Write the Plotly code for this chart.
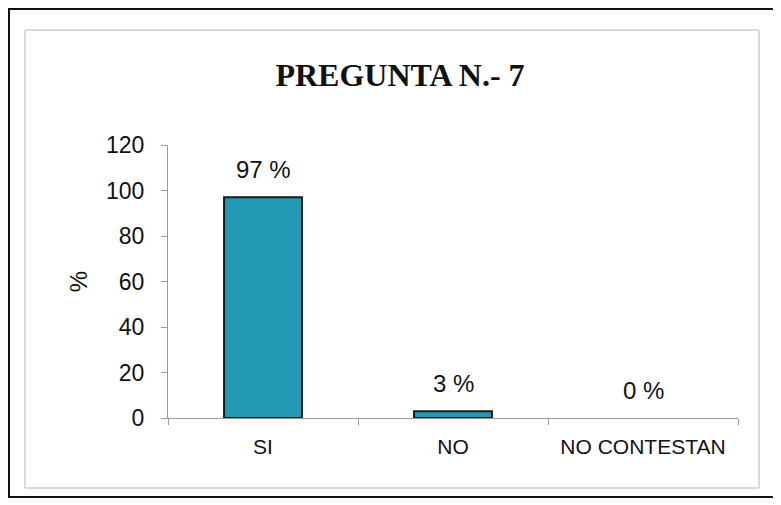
import plotly.graph_objects as go

categories = ["SI", "NO", "NO CONTESTAN"]
values = [97, 3, 0]
y_ticks = [0, 20, 40, 60, 80, 100, 120]

# page has an 8px body margin; figure coordinates = reference pixels - 8
W, H = 773, 497
L, R, T, B = 160, 730, 137, 410

def px(x):
    return (x - L) / (R - L)

def py(y):
    return (B - y) / (B - T)

fig = go.Figure()
fig.add_trace(go.Bar(
    x=categories, y=values, width=0.41,
    marker=dict(color="#2399b3",
                line=dict(color="#1a1a1a", width=[2 if v > 0 else 0 for v in values])),
    showlegend=False, hoverinfo="skip",
))

for c, v in zip(categories, values):
    fig.add_annotation(x=c, y=v, text=f"{v} %", showarrow=False,
                       yanchor="bottom", yshift=12,
                       font=dict(family="Liberation Sans, Arial", size=24, color="#111"))

fig.update_layout(
    width=W, height=H, autosize=False,
    margin=dict(l=L, r=W - R, t=T, b=H - B),
    paper_bgcolor="white", plot_bgcolor="white",
    title=dict(text="<b>PREGUNTA N.- 7</b>", x=392 / W, xanchor="center",
               y=1 - 67 / H, yanchor="middle",
               font=dict(family="Liberation Serif, Times New Roman", size=32, color="#111")),
    xaxis=dict(
        type="category", range=[-0.5, 2.5],
        showline=True, linecolor="#9a9a9a", linewidth=1,
        ticks="outside", tickson="boundaries", ticklen=6, tickcolor="#9a9a9a",
        ticklabelstandoff=10,
        tickfont=dict(family="Liberation Sans, Arial", size=21, color="#111"),
        showgrid=False,
    ),
    yaxis=dict(
        range=[0, 120], tickvals=y_ticks,
        showline=True, linecolor="#9a9a9a", linewidth=1,
        ticks="outside", ticklen=6, tickcolor="#9a9a9a",
        ticklabelstandoff=12,
        tickfont=dict(family="Liberation Sans, Arial", size=23, color="#111"),
        showgrid=False, zeroline=False,
        title=dict(text="%", font=dict(family="Liberation Sans, Arial", size=24, color="#111"),
                   standoff=11),
    ),
    shapes=[
        dict(type="rect", xref="paper", yref="paper",
             x0=px(1), x1=px(790), y0=py(1), y1=py(489),
             line=dict(color="#111", width=2), layer="below"),
        dict(type="rect", xref="paper", yref="paper",
             x0=px(17), x1=px(751), y0=py(22), y1=py(480),
             line=dict(color="#b8b8b8", width=1), layer="below"),
    ],
)

fig.write_html("out.html")
